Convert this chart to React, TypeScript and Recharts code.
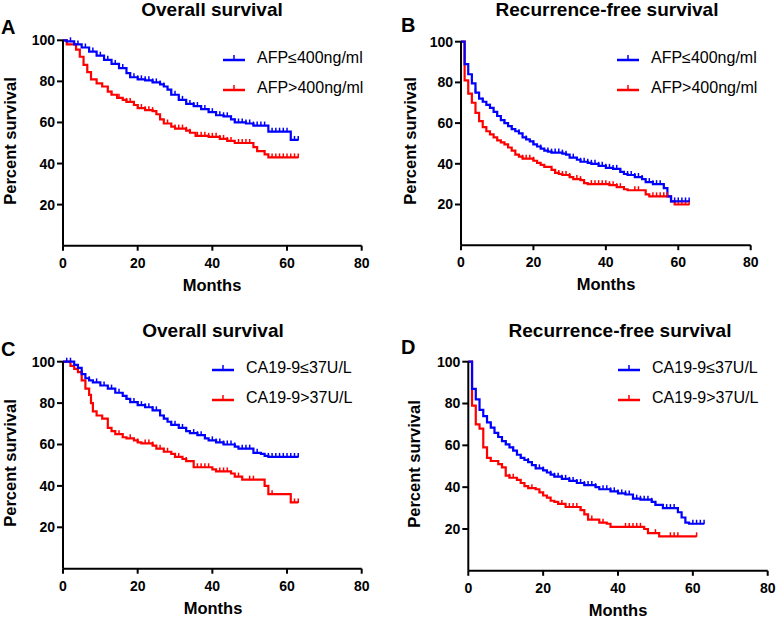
import React from 'react';
import { LineChart, Line, XAxis, YAxis } from 'recharts';

// Panel A: overall survival by AFP
const aLowName = 'AFP≤400ng/ml';
const aLowTime = [0, 1, 3, 5, 7, 9, 11, 13, 15, 17, 18, 20, 22, 24, 26, 27, 28, 29, 31, 33, 35, 37, 39, 41, 43, 45, 46, 49, 51, 55, 61, 63];
const aLowSurv = [100, 99.5, 98, 96.5, 94.5, 92.5, 90.5, 88.5, 86.5, 84, 82, 81, 80.5, 79.5, 78.5, 77.5, 76, 73.5, 71, 69, 68, 66.5, 65, 63.5, 63, 61.5, 60, 59.5, 58.5, 55.5, 51.5, 51.5];
const aLowCens = [2, 4, 6, 8, 10, 12, 14, 15, 16, 18, 19, 20, 21, 22, 23, 24, 25, 26, 27, 29, 30, 31, 32, 33, 34, 35, 36, 37, 38, 39, 40, 41, 42, 43, 44, 45, 46, 47, 48, 49, 50, 51, 52, 53, 54, 56, 57, 58, 59, 60, 62, 63];
const aHighName = 'AFP>400ng/ml';
const aHighTime = [0, 1, 3.5, 4.5, 5.5, 6.5, 7.5, 9, 10.5, 12, 13, 14.5, 16, 17, 19, 20, 22, 24, 25, 26, 27, 29, 30, 33, 34, 35.5, 39, 42, 44, 46, 51, 52, 54, 55, 63];
const aHighSurv = [100, 98, 95.5, 92, 88, 84.5, 81, 79, 77.5, 75, 73.5, 72, 71, 70, 68.5, 67, 66, 65.5, 64, 61.5, 59.5, 58, 57, 56, 55, 53.5, 53, 52, 51, 50, 48, 46, 44.5, 43, 43];
const aHighCens = [13, 15, 17, 18, 20, 21, 22, 23, 24, 28, 30, 31, 32, 33, 34, 36, 37, 38, 39, 40, 41, 42, 43, 44, 45, 47, 48, 49, 50, 56, 57, 58, 59, 60, 61, 62, 63];

// Panel B: recurrence-free survival by AFP
const bLowTime = [0, 1, 2, 3, 4, 5, 6, 7, 8, 9, 10, 11, 12, 13, 14, 15, 16, 17, 18, 19, 20, 21, 22, 23, 24, 25, 28, 29, 30, 32, 33, 35, 36, 38, 40, 42, 44, 45, 46, 48, 50, 51, 53, 56, 57, 58, 63];
const bLowSurv = [100, 89, 84, 79.5, 75, 72, 70.5, 69, 67.5, 65.5, 63.5, 61.5, 60, 58.5, 57, 56, 55, 53, 52, 51, 49.5, 48.5, 47.5, 46.5, 46, 45.5, 45, 44.5, 43, 42, 41, 40.5, 40, 39, 38, 37.5, 36, 35, 34.5, 33.5, 32.5, 31, 30, 28, 24, 21.5, 21.5];
const bLowCens = [4, 6, 8, 10, 12, 14, 16, 18, 20, 22, 24, 25, 26, 27, 28, 29, 31, 33, 34, 35, 36, 37, 38, 39, 40, 41, 42, 43, 44, 46, 47, 48, 49, 50, 52, 53, 54, 55, 56, 59, 60, 61, 62, 63];
const bHighTime = [0, 1, 2, 3, 4, 5, 6, 7, 8, 9, 10, 11, 12, 13, 14, 15, 16, 17, 20, 21, 22, 23, 25, 26, 27, 28, 30, 31, 33, 34, 35, 41, 43, 45, 46, 51, 52, 58, 59, 63];
const bHighSurv = [100, 81, 74.5, 70, 65, 61, 58, 56, 54.5, 53, 51.5, 50.5, 49.5, 48, 46.5, 44.5, 43.5, 42.5, 41.5, 40.5, 39.5, 38.5, 37, 35.5, 35, 34.5, 33.5, 32.5, 32, 30.5, 30, 29.5, 28.5, 27.5, 27, 25, 24, 21.5, 20, 20];
const bHighCens = [17, 18, 19, 20, 26, 27, 28, 29, 30, 32, 33, 36, 37, 38, 39, 40, 41, 42, 43, 44, 48, 49, 53, 54, 55, 56, 57, 60, 61, 62, 63];

// Panel C: overall survival by CA19-9
const cLowName = 'CA19-9≤37U/L';
const cLowTime = [0, 3, 4, 5, 6, 7, 8, 10, 12, 14, 16, 17, 18, 20, 22, 24, 26, 27, 28, 29, 31, 33, 34, 36, 38, 39, 41, 43, 46, 47, 51, 53, 54, 55, 63];
const cLowSurv = [100, 98.5, 97, 94, 92, 91, 90, 88.5, 87, 85, 83.5, 82, 80.5, 79, 78, 76.5, 74, 72.5, 71, 69.5, 68, 66.5, 65.5, 64.5, 63, 62, 61, 60, 59, 58, 56, 55.5, 54.5, 54, 54];
const cLowCens = [1, 2, 5, 7, 9, 11, 13, 15, 17, 19, 20, 21, 22, 23, 24, 25, 27, 29, 30, 31, 32, 33, 35, 36, 37, 38, 40, 41, 42, 43, 44, 45, 46, 48, 49, 50, 52, 55, 56, 57, 58, 59, 60, 61, 62, 63];
const cHighName = 'CA19-9>37U/L';
const cHighTime = [0, 2, 3, 4, 5, 6, 7, 7.5, 8, 9, 10.5, 12, 13, 14, 16, 17, 19, 20, 21, 24, 25, 27, 29, 30, 32, 33, 35, 40, 41, 45, 46, 48, 54, 55, 61, 63];
const cHighSurv = [100, 98, 96.5, 95, 91, 87, 84, 80, 76, 74, 72.5, 68, 66.5, 65, 63.5, 63, 62, 61, 60.5, 59.5, 58, 56.5, 55.5, 54, 53, 52, 49, 48, 47, 46, 44.5, 43, 40, 36, 32, 32];
const cHighCens = [15, 18, 20, 22, 23, 24, 26, 28, 31, 33, 36, 37, 38, 39, 42, 43, 44, 47, 50, 51, 56, 62, 63];

// Panel D: recurrence-free survival by CA19-9
const dLowTime = [0, 1, 2, 3, 4, 5, 6, 7, 8, 9, 10, 11, 12, 13, 14, 15, 16, 17, 18, 20, 21, 22, 23, 25, 27, 29, 31, 34, 35, 38, 40, 42, 44, 46, 49, 50, 52, 56, 57, 58, 59, 63];
const dLowSurv = [100, 87, 82, 77, 74, 71, 68.5, 66, 64, 62, 60.5, 59, 57.5, 55.5, 54, 53, 52, 50.5, 49, 48, 47, 46, 45, 44, 43, 42, 41, 40, 39, 38, 37, 36.5, 34.5, 34, 33, 31.5, 30, 28, 25.5, 23, 22.5, 22.5];
const dLowCens = [6, 8, 10, 12, 14, 16, 18, 19, 20, 22, 23, 24, 25, 26, 27, 28, 29, 30, 31, 32, 33, 34, 36, 37, 38, 39, 40, 41, 42, 43, 45, 46, 47, 48, 49, 50, 53, 54, 55, 60, 61, 62, 63];
const dHighTime = [0, 1, 2, 3, 4, 5, 6, 8, 9, 10, 11, 13, 14, 15, 16, 18, 19, 20, 21, 22, 23, 24, 26, 30, 31, 32, 35, 37, 38, 47, 48, 51, 61];
const dHighSurv = [100, 79, 70, 68, 59, 54, 52.5, 51, 49.5, 45.5, 44.5, 43.5, 42, 40.5, 39.5, 39, 37.5, 36, 35, 33.5, 33, 32, 30.5, 29, 27, 24.5, 23, 22.5, 21, 20, 18, 16.5, 16.5];
const dHighCens = [11, 12, 17, 25, 27, 28, 29, 30, 33, 36, 42, 43, 44, 45, 46, 50, 54, 55, 56, 61];

const xTicks = [0, 20, 40, 60, 80];
const yTicks = [20, 40, 60, 80, 100];

const BLUE = '#0000ff';
const RED = '#ff0000';
const FONT = '"Liberation Sans", Arial, sans-serif';

const toPoints = (time: number[], surv: number[]) => time.map((t, i) => ({ t, s: surv[i] }));

// censored marks sit on the curve, so look up the step value at each time
const censPoints = (time: number[], surv: number[], cens: number[]) =>
  cens.map((c) => {
    let s = surv[0];
    for (let i = 0; i < time.length; i++) if (time[i] <= c) s = surv[i];
    return { t: c, s };
  });

const censorTick = (color: string) => (props: any) => {
  const { cx, cy, index } = props;
  return <line key={`c-${index}`} x1={cx} x2={cx} y1={cy + 0.5} y2={cy - 4} stroke={color} strokeWidth={1.5} />;
};

const LegendIcon = ({ color }: { color: string }) => (
  <svg width={22} height={10} style={{ display: 'block' }}>
    <line x1={0} x2={22} y1={7} y2={7} stroke={color} strokeWidth={2.5} />
    <line x1={11} x2={11} y1={7} y2={2} stroke={color} strokeWidth={1.5} />
  </svg>
);

type Series = { name: string; time: number[]; surv: number[]; cens: number[] };
type Panel = {
  letter: string;
  title: string;
  ox: number;
  oy: number;
  w: number;
  h: number;
  plot: { l: number; t: number; r: number; b: number };
  legend: { x: number; y: number };
  titleX: number;
  titleTop: number;
  letterX: number;
  letterY: number;
  yLabelX: number;
  monthsX: number;
  low: Series;
  high: Series;
};

const panels: Panel[] = [
  {
    letter: 'A', title: 'Overall survival', ox: 0, oy: 0, w: 388, h: 310,
    plot: { l: 63, t: 40.3, r: 361.7, b: 245.7 }, legend: { x: 223, y: 58 },
    titleX: 212, titleTop: 0, letterX: 1, letterY: 17, yLabelX: 10, monthsX: 212,
    low: { name: aLowName, time: aLowTime, surv: aLowSurv, cens: aLowCens },
    high: { name: aHighName, time: aHighTime, surv: aHighSurv, cens: aHighCens },
  },
  {
    letter: 'B', title: 'Recurrence-free survival', ox: 390, oy: 0, w: 387, h: 310,
    plot: { l: 461, t: 41.7, r: 750.7, b: 245.2 }, legend: { x: 617, y: 58 },
    titleX: 607, titleTop: 0, letterX: 401, letterY: 15, yLabelX: 410, monthsX: 606,
    low: { name: aLowName, time: bLowTime, surv: bLowSurv, cens: bLowCens },
    high: { name: aHighName, time: bHighTime, surv: bHighSurv, cens: bHighCens },
  },
  {
    letter: 'C', title: 'Overall survival', ox: 0, oy: 310, w: 388, h: 308,
    plot: { l: 63, t: 361.7, r: 361.7, b: 568.7 }, legend: { x: 212, y: 368 },
    titleX: 213, titleTop: 321, letterX: 1, letterY: 339, yLabelX: 10, monthsX: 213,
    low: { name: cLowName, time: cLowTime, surv: cLowSurv, cens: cLowCens },
    high: { name: cHighName, time: cHighTime, surv: cHighSurv, cens: cHighCens },
  },
  {
    letter: 'D', title: 'Recurrence-free survival', ox: 390, oy: 310, w: 387, h: 308,
    plot: { l: 468.3, t: 361.7, r: 767.7, b: 570.8 }, legend: { x: 618, y: 368 },
    titleX: 620, titleTop: 321, letterX: 401, letterY: 337, yLabelX: 414, monthsX: 618,
    low: { name: cLowName, time: dLowTime, surv: dLowSurv, cens: dLowCens },
    high: { name: cHighName, time: dHighTime, surv: dHighSurv, cens: dHighCens },
  },
];

const tickStyle = { fill: '#000', fontSize: 14, fontWeight: 700, fontFamily: FONT };
const axisStyle = { stroke: '#000', strokeWidth: 2 };

function SurvivalPanel({ p }: { p: Panel }) {
  const xAxisH = 30;
  const yAxisW = p.plot.l - p.ox;
  const margin = {
    top: p.plot.t - p.oy,
    right: p.w - (p.plot.r - p.ox),
    bottom: p.h - (p.plot.b - p.oy) - xAxisH,
    left: 0,
  };

  return (
    <div style={{ position: 'absolute', left: p.ox, top: p.oy, width: p.w, height: p.h }}>
      <LineChart width={p.w} height={p.h} margin={margin}>
        <XAxis
          type="number"
          dataKey="t"
          domain={[0, 80]}
          ticks={xTicks}
          height={xAxisH}
          axisLine={axisStyle}
          tickLine={axisStyle}
          tick={tickStyle}
          tickSize={5}
          tickMargin={7}
        />
        <YAxis
          type="number"
          dataKey="s"
          domain={[0, 100]}
          ticks={yTicks}
          width={yAxisW}
          axisLine={axisStyle}
          tickLine={axisStyle}
          tick={tickStyle}
          tickSize={6}
          tickMargin={2}
        />
        <Line
          data={toPoints(p.high.time, p.high.surv)}
          dataKey="s"
          type="stepAfter"
          stroke={RED}
          strokeWidth={2.2}
          dot={false}
          isAnimationActive={false}
        />
        <Line
          data={censPoints(p.high.time, p.high.surv, p.high.cens)}
          dataKey="s"
          stroke="none"
          dot={censorTick(RED)}
          activeDot={false}
          isAnimationActive={false}
        />
        <Line
          data={toPoints(p.low.time, p.low.surv)}
          dataKey="s"
          type="stepAfter"
          stroke={BLUE}
          strokeWidth={2.2}
          dot={false}
          isAnimationActive={false}
        />
        <Line
          data={censPoints(p.low.time, p.low.surv, p.low.cens)}
          dataKey="s"
          stroke="none"
          dot={censorTick(BLUE)}
          activeDot={false}
          isAnimationActive={false}
        />
      </LineChart>
    </div>
  );
}

function PanelLegend({ p }: { p: Panel }) {
  const items = [
    { name: p.low.name, color: BLUE },
    { name: p.high.name, color: RED },
  ];
  return (
    <>
      {items.map((item, i) => (
        <div
          key={item.name}
          style={{
            position: 'absolute',
            left: p.legend.x,
            top: p.legend.y + i * 29.5 - 11,
            height: 22,
            display: 'flex',
            alignItems: 'center',
            fontFamily: FONT,
            fontSize: 16,
            color: '#000',
            whiteSpace: 'nowrap',
          }}
        >
          <LegendIcon color={item.color} />
          <span style={{ marginLeft: 12 }}>{item.name}</span>
        </div>
      ))}
    </>
  );
}

export default function App() {
  const text = { position: 'absolute' as const, fontFamily: FONT, fontWeight: 700, color: '#000', whiteSpace: 'nowrap' as const };
  return (
    <div style={{ position: 'absolute', left: 0, top: 0, width: 777, height: 618, background: '#fff', overflow: 'hidden' }}>
      {panels.map((p) => (
        <React.Fragment key={p.letter}>
          <SurvivalPanel p={p} />
          <PanelLegend p={p} />
          <div
            style={{
              ...text,
              left: p.titleX,
              top: p.titleTop,
              fontSize: 19,
              lineHeight: '19px',
              transform: 'translateX(-50%)',
            }}
          >
            {p.title}
          </div>
          <div style={{ ...text, left: p.letterX, top: p.letterY, fontSize: 20, lineHeight: '20px' }}>{p.letter}</div>
          <div
            style={{
              ...text,
              left: p.yLabelX,
              top: (p.plot.t + p.plot.b) / 2 - 2,
              fontSize: 16.5,
              transform: 'translate(-50%, -50%) rotate(-90deg)',
            }}
          >
            Percent survival
          </div>
          <div style={{ ...text, left: p.monthsX, top: p.plot.b + 39, fontSize: 16.5, transform: 'translate(-50%, -50%)' }}>
            Months
          </div>
        </React.Fragment>
      ))}
    </div>
  );
}
